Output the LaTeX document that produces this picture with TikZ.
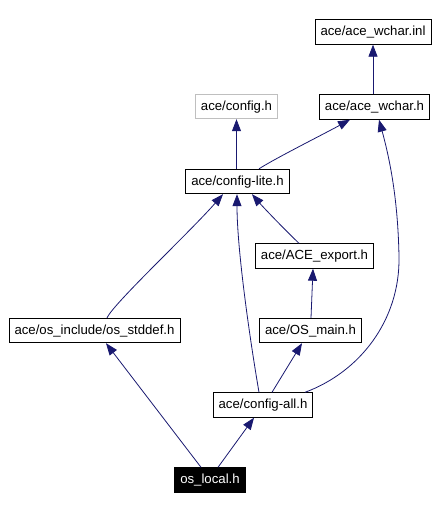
\documentclass[tikz,border=0pt]{standalone}
\usepackage{fontspec}
\setmainfont{Liberation Sans}
\usetikzlibrary{arrows.meta}
\definecolor{edgecol}{HTML}{191970}
\definecolor{graybox}{HTML}{BFBFBF}
\tikzset{
  filebox/.style={draw=black, line width=0.9pt, fill=white, inner xsep=5.5pt, inner ysep=0pt,
    minimum height=24.5pt, font=\fontsize{13.2}{15}\selectfont, text depth=0.25ex, text height=1.6ex},
  dimbox/.style={filebox, draw=graybox},
  curbox/.style={filebox, fill=black, text=white},
  dep/.style={draw=edgecol, line width=0.8pt, -{Triangle[length=12pt,width=9pt]}, color=edgecol}
}
\begin{document}
\begin{tikzpicture}[x=1pt,y=-1pt]
\useasboundingbox (0,0) rectangle (439,510);
\node[filebox] (inl) at (373,32) {ace/ace\_wchar.inl};
\node[filebox] (wchar) at (374.5,107) {ace/ace\_wchar.h};
\node[dimbox] (config) at (236.5,106.5) {ace/config.h};
\node[filebox] (lite) at (237.5,181.5) {ace/config-lite.h};
\node[filebox] (export) at (314.5,256) {ace/ACE\_export.h};
\node[filebox] (stddef) at (94.5,330.5) {ace/os\_include/os\_stddef.h};
\node[filebox] (osmain) at (310.5,330.5) {ace/OS\_main.h};
\node[filebox] (all) at (263,405) {ace/config-all.h};
\node[curbox] (local) at (210,480) {os\_local.h};

\draw[dep] (inl.south |- wchar.north) -- (inl.south);
\draw[dep] (config.south |- lite.north) -- (config.south);
\draw[dep] ([xshift=21.5pt]lite.north) .. controls (276,158) and (320,136) .. ([xshift=-24.5pt]wchar.south);
\draw[dep] ([xshift=-15.5pt]export.north) .. controls (285,230) and (263,207) .. ([xshift=14.5pt]lite.south);
\draw[dep] ([xshift=12.5pt]stddef.north) .. controls (114,303) and (190,232) .. ([xshift=-14.5pt]lite.south);
\draw[dep] ([xshift=-4pt]all.north) .. controls (250,340) and (237,250) .. ([xshift=-0.5pt]lite.south);
\draw[dep] ([xshift=0.5pt]osmain.north) -- ([xshift=-1.5pt]export.south);
\draw[dep] ([xshift=9pt]all.north) -- ([xshift=-8.5pt]osmain.south);
\draw[dep] ([xshift=42pt]all.north) .. controls (360,372) and (400,320) .. (399,257)
   .. controls (398,200) and (390,160) .. ([xshift=4.5pt]wchar.south);
\draw[dep] ([xshift=-9pt]local.north) -- ([xshift=11.5pt]stddef.south);
\draw[dep] ([xshift=8pt]local.north) -- ([xshift=-9pt]all.south);
\end{tikzpicture}
\end{document}
